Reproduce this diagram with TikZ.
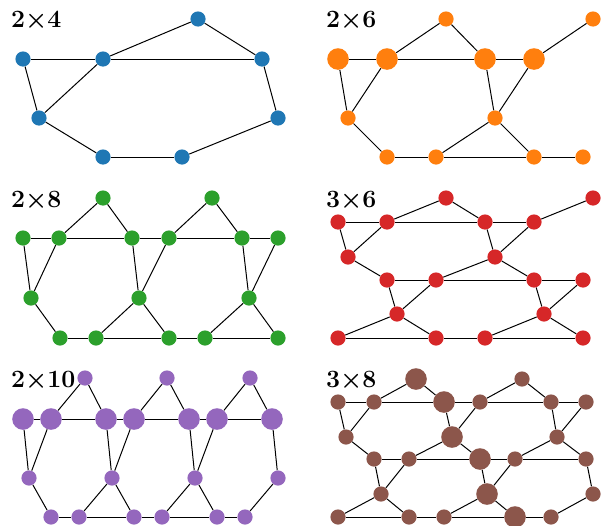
\documentclass[tikz,border=0pt]{standalone}
\usetikzlibrary{backgrounds}
\definecolor{tabblue}{HTML}{1F77B4}
\definecolor{taborange}{HTML}{FF7F0E}
\definecolor{tabgreen}{HTML}{2CA02C}
\definecolor{tabred}{HTML}{D62728}
\definecolor{tabpurple}{HTML}{9467BD}
\definecolor{tabbrown}{HTML}{8C564B}
\tikzset{
  sv/.style={circle, inner sep=0pt, minimum size=15.2pt, fill=#1},
  bv/.style={circle, inner sep=0pt, minimum size=21.6pt, fill=#1},
  ed/.style={draw=black, line width=1pt},
  lbl/.style={anchor=base west, inner sep=0pt, font=\fontsize{24}{28}\selectfont\boldmath}
}
\begin{document}
\begin{tikzpicture}[x=1pt,y=-1pt]
\useasboundingbox (0,0) rectangle (605,525);
% labels
\node[lbl] (tA) at (11,27) {$2{\times}4$};
\node[lbl] (tB) at (326,27) {$2{\times}6$};
\node[lbl] (tC) at (11,207) {$2{\times}8$};
\node[lbl] (tD) at (326,207) {$3{\times}6$};
\node[lbl] (tE) at (11,387) {$2{\times}10$};
\node[lbl] (tF) at (326,387) {$3{\times}8$};

% ---- 2x4 ----
\begin{scope}[every node/.style={sv=tabblue}]
\node (a1) at (198,19) {};
\node (a2) at (23,59) {};
\node (a3) at (103,59) {};
\node (a4) at (262,59) {};
\node (a5) at (39,118) {};
\node (a6) at (278,118) {};
\node (a7) at (103,157) {};
\node (a8) at (182,157) {};
\end{scope}

% ---- 2x6 ----
\node[sv=taborange] (b1) at (446,19) {};
\node[sv=taborange] (b2) at (593,19) {};
\node[bv=taborange] (b3) at (338,59) {};
\node[bv=taborange] (b4) at (387,59) {};
\node[bv=taborange] (b5) at (485,59) {};
\node[bv=taborange] (b6) at (534,59) {};
\node[sv=taborange] (b7) at (348,118) {};
\node[sv=taborange] (b8) at (495,118) {};
\node[sv=taborange] (b9) at (387,157) {};
\node[sv=taborange] (b10) at (436,157) {};
\node[sv=taborange] (b11) at (534,157) {};
\node[sv=taborange] (b12) at (583,157) {};

% ---- 2x8 ----
\begin{scope}[every node/.style={sv=tabgreen}]
\node (c1) at (103,198) {};
\node (c2) at (212,198) {};
\node (c3) at (23,238) {};
\node (c4) at (59,238) {};
\node (c5) at (132,238) {};
\node (c6) at (169,238) {};
\node (c7) at (242,238) {};
\node (c8) at (278,238) {};
\node (c9) at (31,298) {};
\node (c10) at (139,298) {};
\node (c11) at (249,298) {};
\node (c12) at (60,338) {};
\node (c13) at (96,338) {};
\node (c14) at (169,338) {};
\node (c15) at (205,338) {};
\node (c16) at (278,338) {};
\end{scope}

% ---- 3x6 ----
\begin{scope}[every node/.style={sv=tabred}]
\node (d1) at (446,198) {};
\node (d2) at (593,198) {};
\node (d3) at (338,222) {};
\node (d4) at (387,222) {};
\node (d5) at (485,222) {};
\node (d6) at (534,222) {};
\node (d7) at (348,257) {};
\node (d8) at (495,257) {};
\node (d9) at (387,280) {};
\node (d10) at (436,280) {};
\node (d11) at (534,280) {};
\node (d12) at (583,280) {};
\node (d13) at (397,314) {};
\node (d14) at (544,314) {};
\node (d15) at (338,338) {};
\node (d16) at (436,338) {};
\node (d17) at (485,338) {};
\node (d18) at (583,338) {};
\end{scope}

% ---- 2x10 ----
\node[sv=tabpurple] (e1) at (85,378) {};
\node[sv=tabpurple] (e2) at (167,378) {};
\node[sv=tabpurple] (e3) at (250,378) {};
\node[bv=tabpurple] (e4) at (23,419) {};
\node[bv=tabpurple] (e5) at (51,419) {};
\node[bv=tabpurple] (e6) at (106,419) {};
\node[bv=tabpurple] (e7) at (134,419) {};
\node[bv=tabpurple] (e8) at (189,419) {};
\node[bv=tabpurple] (e9) at (217,419) {};
\node[bv=tabpurple] (e10) at (272,419) {};
\node[sv=tabpurple] (e11) at (29,478) {};
\node[sv=tabpurple] (e12) at (112,478) {};
\node[sv=tabpurple] (e13) at (195,478) {};
\node[sv=tabpurple] (e14) at (278,478) {};
\node[sv=tabpurple] (e15) at (51,517) {};
\node[sv=tabpurple] (e16) at (79,517) {};
\node[sv=tabpurple] (e17) at (134,517) {};
\node[sv=tabpurple] (e18) at (162,517) {};
\node[sv=tabpurple] (e19) at (217,517) {};
\node[sv=tabpurple] (e20) at (245,517) {};

% ---- 3x8 ----
\node[bv=tabbrown] (f1) at (416,379) {};
\node[sv=tabbrown] (f2) at (522,379) {};
\node[sv=tabbrown] (f3) at (338,402) {};
\node[sv=tabbrown] (f4) at (374,402) {};
\node[bv=tabbrown] (f5) at (444,402) {};
\node[sv=tabbrown] (f6) at (480,402) {};
\node[sv=tabbrown] (f7) at (551,402) {};
\node[sv=tabbrown] (f8) at (586,402) {};
\node[sv=tabbrown] (f9) at (346,437) {};
\node[bv=tabbrown] (f10) at (452,437) {};
\node[sv=tabbrown] (f11) at (557,437) {};
\node[sv=tabbrown] (f12) at (374,459) {};
\node[sv=tabbrown] (f13) at (409,459) {};
\node[bv=tabbrown] (f14) at (480,459) {};
\node[sv=tabbrown] (f15) at (515,459) {};
\node[sv=tabbrown] (f16) at (586,459) {};
\node[sv=tabbrown] (f17) at (381,494) {};
\node[bv=tabbrown] (f18) at (487,494) {};
\node[sv=tabbrown] (f19) at (593,494) {};
\node[sv=tabbrown] (f20) at (338,517) {};
\node[sv=tabbrown] (f21) at (409,517) {};
\node[sv=tabbrown] (f22) at (444,517) {};
\node[bv=tabbrown] (f23) at (515,517) {};
\node[sv=tabbrown] (f24) at (551,517) {};

\begin{pgfonlayer}{background}
\foreach \u/\v in {a2/a3,a3/a4,a3/a1,a1/a4,a2/a5,a5/a3,a5/a7,a7/a8,a8/a6,a6/a4,
  b3/b4,b4/b5,b5/b6,b4/b1,b1/b5,b6/b2,b3/b7,b7/b4,b7/b9,b9/b10,b10/b11,b11/b12,b10/b8,b8/b11,b8/b5,b8/b6,
  c3/c4,c4/c5,c5/c6,c6/c7,c7/c8,c1/c4,c1/c5,c2/c6,c2/c7,c9/c3,c9/c4,c9/c12,c10/c5,c10/c6,c10/c13,c10/c14,
  c11/c7,c11/c8,c11/c15,c11/c16,c12/c13,c13/c14,c14/c15,c15/c16,
  d3/d4,d4/d5,d5/d6,d4/d1,d1/d5,d6/d2,d7/d3,d7/d4,d7/d9,d8/d5,d8/d6,d8/d10,d8/d11,d9/d10,d10/d11,d11/d12,
  d13/d9,d13/d10,d13/d15,d13/d16,d14/d11,d14/d12,d14/d17,d14/d18,d15/d16,d16/d17,d17/d18,
  e4/e5,e5/e6,e6/e7,e7/e8,e8/e9,e9/e10,e1/e5,e1/e6,e2/e7,e2/e8,e3/e9,e3/e10,e11/e4,e11/e5,e11/e15,
  e12/e6,e12/e7,e12/e16,e12/e17,e13/e8,e13/e9,e13/e18,e13/e19,e14/e10,e14/e20,
  e15/e16,e16/e17,e17/e18,e18/e19,e19/e20,
  f3/f4,f4/f5,f5/f6,f6/f7,f7/f8,f1/f4,f1/f5,f2/f6,f2/f7,f9/f3,f9/f4,f9/f12,f10/f5,f10/f6,f10/f13,f10/f14,
  f11/f7,f11/f8,f11/f15,f11/f16,f12/f13,f13/f14,f14/f15,f15/f16,f17/f12,f17/f13,f17/f20,f17/f21,
  f18/f14,f18/f15,f18/f22,f18/f23,f19/f16,f19/f24,f20/f21,f21/f22,f22/f23,f23/f24}
  \draw[ed] (\u) -- (\v);
\end{pgfonlayer}
\end{tikzpicture}
\end{document}
